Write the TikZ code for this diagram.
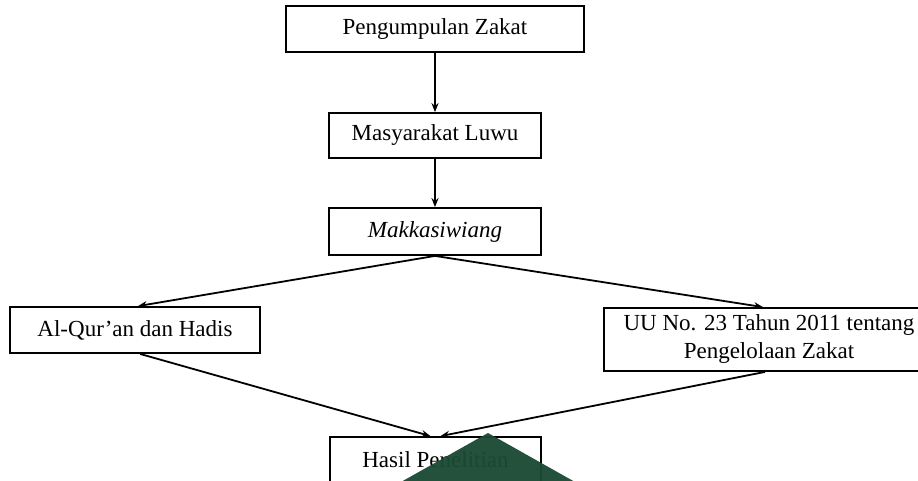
\documentclass[tikz,border=0pt]{standalone}
\usepackage{fontspec}
\setmainfont{Liberation Serif}
\usetikzlibrary{arrows.meta}
\definecolor{tri}{HTML}{1B4A33}
\begin{document}
\begin{tikzpicture}[x=1pt,y=-1pt,
  box/.style={draw=black,line width=1.8pt,fill=white,inner sep=0pt,align=center,
    font=\fontsize{23}{28}\selectfont},
  arr/.style={line width=1.8pt,-{Stealth[length=9pt,width=7pt]}}]
\useasboundingbox (0,0) rectangle (918,481);
\clip (0,0) rectangle (918,481);
\node[box,minimum width=298pt,minimum height=46pt] (p1) at (435,29) {Pengumpulan Zakat};
\node[box,minimum width=212pt,minimum height=45pt] (p2) at (435,135.5) {Masyarakat Luwu};
\node[box,minimum width=212pt,minimum height=47pt] (p3) at (435,231.5) {\itshape Makkasiwiang};
\node[box,minimum width=250pt,minimum height=46pt] (q) at (135,330) {Al-Qur’an dan Hadis};
\node[box,minimum width=330pt,minimum height=63pt] (uu) at (769,339.5) {UU No. 23 Tahun 2011 tentang\\Pengelolaan Zakat};
\node[box,minimum width=211pt,minimum height=46pt] (h) at (435.5,460) {Hasil Penelitian};
\draw[arr] (p1) -- (p2);
\draw[arr] (p2) -- (p3);
\draw[arr] (p3.south) -- ([xshift=3pt]q.north);
\draw[arr] (p3.south) -- ([xshift=-6pt]uu.north);
\draw[arr] ([xshift=5pt]q.south) -- ([xshift=-5pt]h.north);
\draw[arr] ([xshift=-4pt]uu.south) -- ([xshift=5pt]h.north);
\fill[tri,opacity=0.96] (488,433) -- (369,500) -- (607,500) -- cycle;
\end{tikzpicture}
\end{document}
